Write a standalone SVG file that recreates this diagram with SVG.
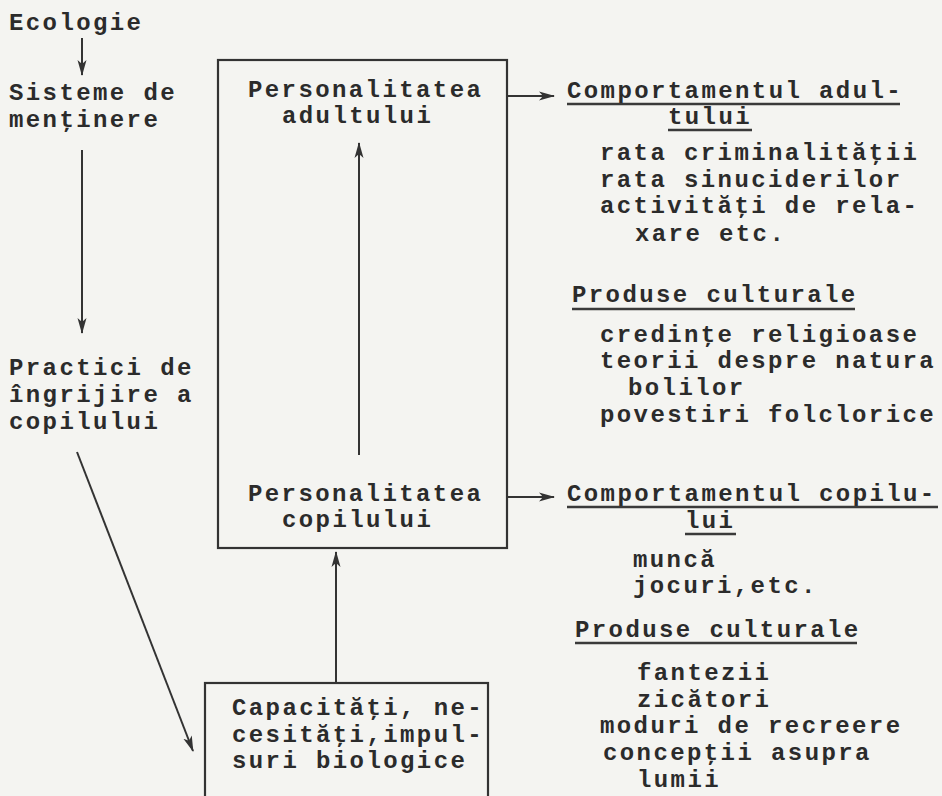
<svg xmlns="http://www.w3.org/2000/svg" width="942" height="796" viewBox="0 0 942 796">
<style>
text{font-family:"Liberation Mono","Courier New",monospace;font-size:24px;letter-spacing:2.4px;fill:#2b2b2b;font-weight:bold}
.ln{stroke:#333;stroke-width:2;fill:none}
.ul{stroke:#3a3a3a;stroke-width:2.5}
.box{stroke:#333;stroke-width:2.2;fill:none}
</style>
<defs>
<marker id="ah" viewBox="0 0 16 10" refX="15" refY="5" markerWidth="16" markerHeight="10" markerUnits="userSpaceOnUse" orient="auto">
<path d="M0,0.5 L16,5 L0,9.5 L4,5 Z" fill="#333"/>
</marker>
</defs>
<rect width="942" height="796" fill="#f4f4f1"/>

<g id="ecologie"><text x="9" y="30">Ecologie</text></g>
<g id="sisteme"><text x="9" y="100">Sisteme de</text><text x="9" y="127">menţinere</text></g>
<g id="practici"><text x="9" y="375">Practici de</text><text x="9" y="402">îngrijire a</text><text x="9" y="429">copilului</text></g>

<g id="personalitate">
<rect class="box" x="218" y="60" width="289" height="488"/>
<text x="248" y="97">Personalitatea</text>
<text x="282" y="123">adultului</text>
<text x="248" y="501">Personalitatea</text>
<text x="282" y="527">copilului</text>
</g>

<g id="capacitati">
<rect class="box" x="205" y="683" width="283" height="130"/>
<text x="232" y="715">Capacităţi, ne-</text>
<text x="232" y="742">cesităţi,impul-</text>
<text x="232" y="768">suri biologice</text>
</g>

<g id="comportament-adult">
<text x="567" y="98">Comportamentul adul-</text>
<line class="ul" x1="567" y1="104" x2="900" y2="104"/>
<text x="668" y="124">tului</text>
<line class="ul" x1="668" y1="130" x2="752" y2="130"/>
<text x="600" y="160">rata criminalităţii</text>
<text x="600" y="187">rata sinuciderilor</text>
<text x="600" y="213">activităţi de rela-</text>
<text x="635" y="241">xare etc.</text>
</g>

<g id="produse-adult">
<text x="572" y="302">Produse culturale</text>
<line class="ul" x1="572" y1="309" x2="855" y2="309"/>
<text x="600" y="342">credinţe religioase</text>
<text x="600" y="368">teorii despre natura</text>
<text x="628" y="395">bolilor</text>
<text x="600" y="422">povestiri folclorice</text>
</g>

<g id="comportament-copil">
<text x="567" y="501">Comportamentul copilu-</text>
<line class="ul" x1="567" y1="507" x2="938" y2="507"/>
<text x="685" y="528">lui</text>
<line class="ul" x1="685" y1="534" x2="736" y2="534"/>
<text x="633" y="567">muncă</text>
<text x="633" y="593">jocuri,etc.</text>
</g>

<g id="produse-copil">
<text x="575" y="637">Produse culturale</text>
<line class="ul" x1="575" y1="643" x2="857" y2="643"/>
<text x="637" y="680">fantezii</text>
<text x="637" y="707">zicători</text>
<text x="600" y="733">moduri de recreere</text>
<text x="603" y="760">concepţii asupra</text>
<text x="637" y="787">lumii</text>
</g>

<g id="connectors">
<line class="ln" x1="82" y1="38" x2="82" y2="75" marker-end="url(#ah)"/>
<line class="ln" x1="82" y1="150" x2="82" y2="333" marker-end="url(#ah)"/>
<line class="ln" x1="77" y1="452" x2="193" y2="751" marker-end="url(#ah)"/>
<line class="ln" x1="359" y1="455" x2="359" y2="143" marker-end="url(#ah)"/>
<line class="ln" x1="336" y1="683" x2="336" y2="552" marker-end="url(#ah)"/>
<line class="ln" x1="507" y1="96" x2="554" y2="96" marker-end="url(#ah)"/>
<line class="ln" x1="507" y1="497" x2="554" y2="497" marker-end="url(#ah)"/>
</g>
</svg>
